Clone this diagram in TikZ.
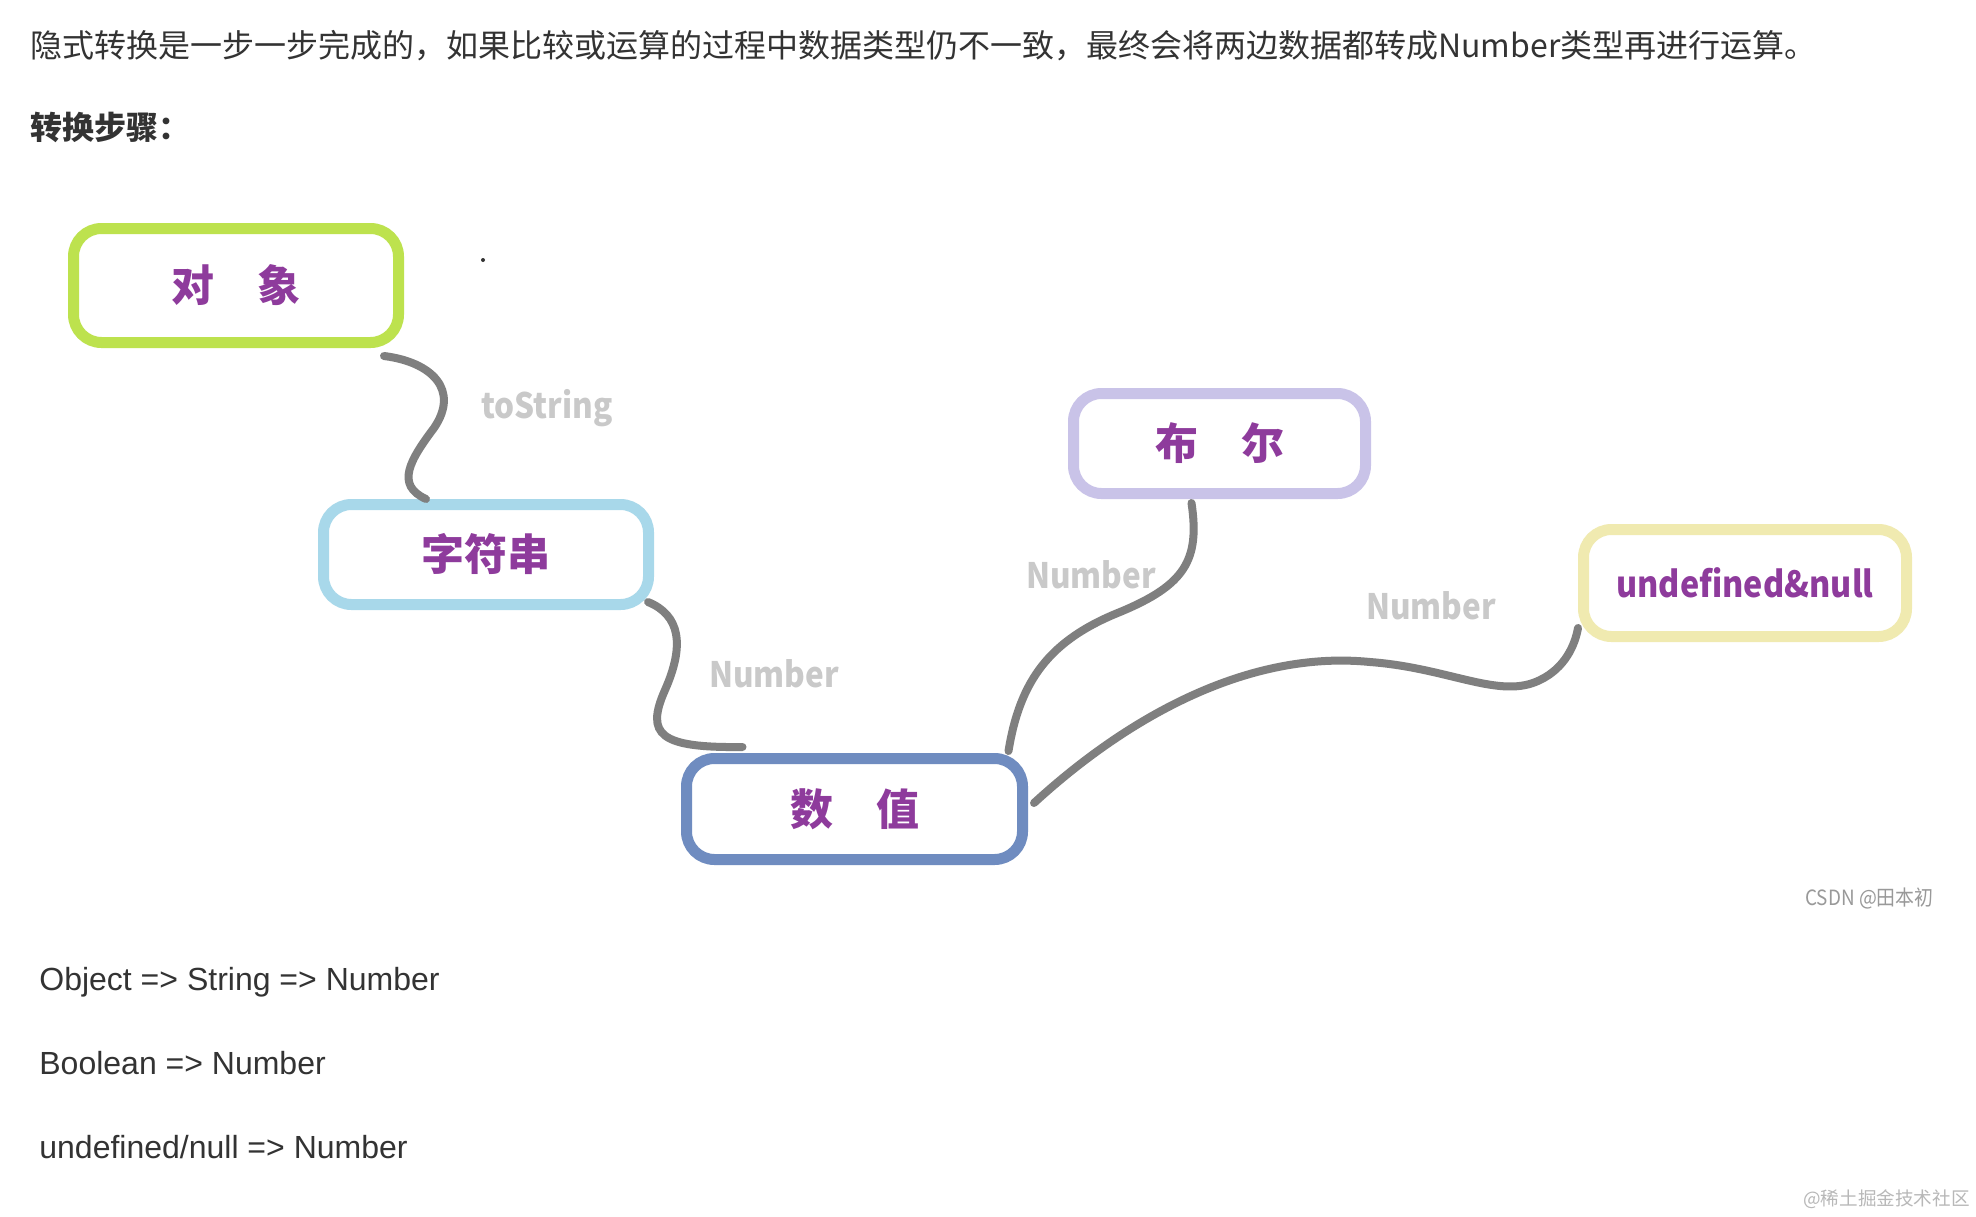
\documentclass[tikz,border=0pt]{standalone}
\usepackage{fontspec}
\setmainfont{Liberation Sans}
\newfontfamily\cjk{Noto Sans CJK SC}
\newfontfamily\cjkn[FakeStretch=0.9]{Noto Sans CJK SC}
\definecolor{bodytext}{HTML}{333333}
\definecolor{boxtext}{HTML}{8E3B9C}
\definecolor{lblgray}{HTML}{C9C9C9}
\definecolor{linkgray}{HTML}{7F7F7F}
\definecolor{cgreen}{HTML}{BDE24E}
\definecolor{cblue}{HTML}{A8D8EA}
\definecolor{cnum}{HTML}{6F8CC0}
\definecolor{clav}{HTML}{C9C3E8}
\definecolor{cyel}{HTML}{F0EAB0}
\begin{document}
\begin{tikzpicture}[x=0.5pt,y=-0.5pt,
  box/.style={draw, line width=5.5pt, rounded corners=14pt, fill=white, inner sep=0pt,
    font=\cjk\bfseries\fontsize{21.5}{24}\selectfont, text=boxtext},
  link/.style={draw=linkgray, line width=4pt, line cap=round},
  lbl/.style={font=\cjkn\bfseries\fontsize{17.5}{20}\selectfont, text=lblgray, inner sep=0pt},
  body/.style={anchor=base west, inner sep=0pt, text=bodytext}]
\useasboundingbox (0,0) rectangle (1976,1216);
\fill[white] (0,0) rectangle (1976,1216);

% header text
\node[body, font=\cjk\fontsize{16}{20}\selectfont] (intro) at (30,57)
  {隐式转换是一步一步完成的，如果比较或运算的过程中数据类型仍不一致，最终会将两边数据都转成Number类型再进行运算。};
\node[body, font=\cjk\bfseries\fontsize{16}{20}\selectfont] (steps) at (30,139) {转换步骤：};

% boxes
\node[box, draw=cgreen, minimum width=162.5pt, minimum height=57pt] (obj) at (236,285.5) {对　象};
\node[box, draw=cblue, minimum width=162.5pt, minimum height=50pt] (str) at (486,554.5) {字符串};
\node[box, draw=cnum, minimum width=168pt, minimum height=50.5pt] (num) at (854.5,809) {数　值};
\node[box, draw=clav, minimum width=146pt, minimum height=50pt] (bool) at (1219.5,443.5) {布　尔};
\node[box, draw=cyel, minimum width=161.5pt, minimum height=53.5pt, font=\cjkn\bfseries\fontsize{18}{22}\selectfont] (und) at (1745,583) {undefined\&null};

% stray dot
\fill[bodytext] (483,260) circle (1pt);

% connectors
\draw[link] ([xshift=-10pt,yshift=-4pt]obj.south east)
  .. controls (432,362) and (460,390) .. (434,428)
  .. controls (410,460) and (395,485) .. ([xshift=-30pt]str.north);
\draw[link] ([xshift=-3pt,yshift=4pt]str.south east)
  .. controls (680,615) and (685,645) .. (665,690)
  .. controls (645,735) and (660,748) .. ([xshift=-56pt,yshift=3pt]num.north);
\draw[link] ([xshift=77pt,yshift=1pt]num.north)
  .. controls (1020,680) and (1050,640) .. (1120,612)
  .. controls (1185,585) and (1200,560) .. ([xshift=-14pt,yshift=-2pt]bool.south);
\draw[link] ([xshift=3pt,yshift=3pt]num.east)
  .. controls (1130,715) and (1250,650) .. (1370,662)
  .. controls (1450,668) and (1500,700) .. (1540,680)
  .. controls (1565,668) and (1575,645) .. ([yshift=7pt]und.south west);

% connector labels
\node[lbl] (lts) at (547,408) {toString};
\node[lbl] (ln1) at (774,674) {Number};
\node[lbl] (ln2) at (1091,575) {Number};
\node[lbl] (ln3) at (1431,606) {Number};

% credit
\node[anchor=east, inner sep=0pt, text=black!40, font=\cjkn\fontsize{10.5}{12}\selectfont] (csdn) at (1934,898) {CSDN @田本初};

% bottom lines
\node[body, font=\fontsize{16}{20}\selectfont] (l1) at (39,990) {Object => String => Number};
\node[body, font=\fontsize{16}{20}\selectfont] (l2) at (39,1074) {Boolean => Number};
\node[body, font=\fontsize{16}{20}\selectfont] (l3) at (39,1158) {undefined/null => Number};

% watermark
\node[anchor=east, inner sep=0pt, text=black!28, font=\cjk\fontsize{9.3}{11}\selectfont] (wm) at (1970,1199) {@稀土掘金技术社区};
\end{tikzpicture}
\end{document}
